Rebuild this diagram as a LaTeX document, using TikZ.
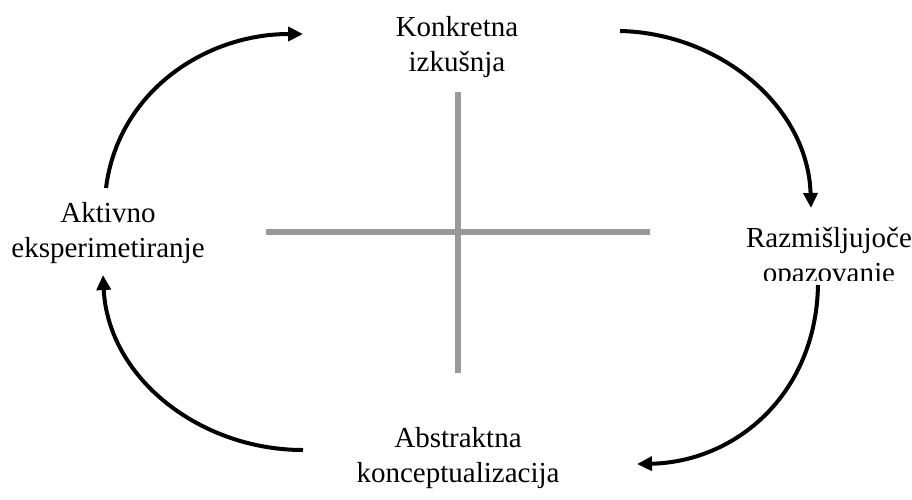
\documentclass[tikz,border=0pt]{standalone}
\usepackage{fontspec}
\setmainfont{Liberation Serif}
\usetikzlibrary{arrows.meta,calc}
\definecolor{CrossGray}{HTML}{999999}

\begin{document}
\begin{tikzpicture}[x=1pt,y=-1pt,line cap=butt,
  phase/.style={align=center,inner sep=0pt,font=\fontsize{29}{35}\selectfont},
  cycle/.style={line width=4pt,-{Triangle[length=15pt,width=14pt]}},
  axis/.style={CrossGray,line width=6pt}]
  \useasboundingbox (0,0) rectangle (912,499);
  % the four stages
  \node[phase] (ce) at (457,46.8) {Konkretna\\izkušnja};
  \node[phase] (ae) at (108,232.7) {Aktivno\\eksperimetiranje};
  \node[phase] (ac) at (458,457.7) {Abstraktna\\konceptualizacija};
  \begin{scope}
    \clip (690,190) rectangle (912,280);
    \node[phase] (ro) at (829,257.8) {Razmišljujoče\\opazovanje};
  \end{scope}
  % cross in the middle
  \coordinate (vt) at (458,92);\coordinate (vb) at (458,373);
  \coordinate (hl) at (266,232);\coordinate (hr) at (650,232);
  \draw[axis] (vt)--(vb);
  \draw[axis] (hl)--(hr);
  % arrow ends
  \coordinate (a1) at (106,188);\coordinate (b1) at (303,34);
  \coordinate (a2) at (620,31);\coordinate (b2) at (811,208);
  \coordinate (a3) at (818,285);\coordinate (b3) at (637,464);
  \coordinate (a4) at (303,450);\coordinate (b4) at (103,275);
  \draw[cycle] (a1) .. controls (118,92) and (205,34) .. (b1);
  \draw[cycle] (a2) .. controls (718,33) and (808,105) .. (b2);
  \draw[cycle] (a3) .. controls (816,395) and (735,462) .. (b3);
  \draw[cycle] (a4) .. controls (200,450) and (108,378) .. (b4);
\end{tikzpicture}
\end{document}
